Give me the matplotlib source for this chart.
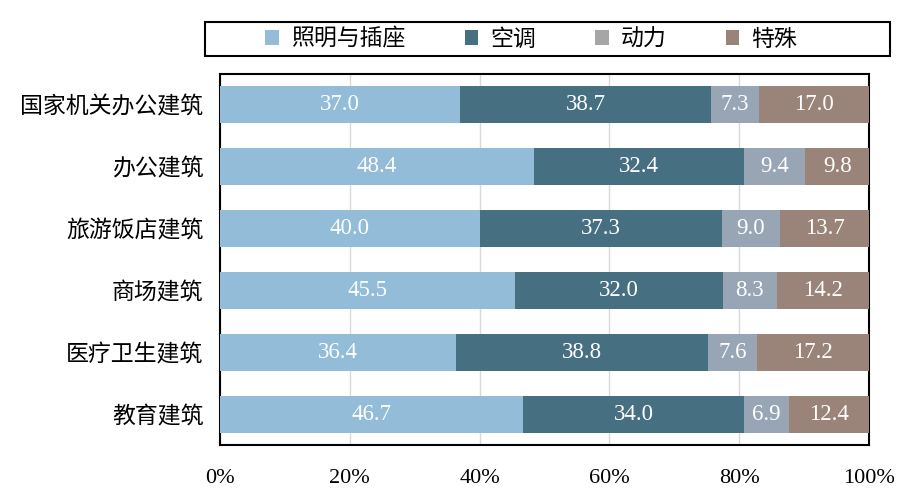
import matplotlib
matplotlib.use("Agg")
import matplotlib.pyplot as plt
import numpy as np
from matplotlib.patches import Patch, Rectangle

# data
buildings = ["国家机关办公建筑", "办公建筑", "旅游饭店建筑", "商场建筑", "医疗卫生建筑", "教育建筑"]
series_names = ["照明与插座", "空调", "动力", "特殊"]
lighting = [37.0, 48.4, 40.0, 45.5, 36.4, 46.7]
aircon = [38.7, 32.4, 37.3, 32.0, 38.8, 34.0]
power = [7.3, 9.4, 9.0, 8.3, 7.6, 6.9]
special = [17.0, 9.8, 13.7, 14.2, 17.2, 12.4]
xticks = [0, 20, 40, 60, 80, 100]

bar_colors = ["#93BCD8", "#476F82", "#97A5B5", "#9A8479"]
legend_colors = ["#93BCD8", "#476F82", "#A6A6A6", "#9A8479"]

CJK = "Noto Sans CJK SC"
NUM = "Liberation Serif"

fig = plt.figure(figsize=(9.14, 5.0), dpi=100)
ax = fig.add_axes([0.2407, 0.11, 0.7101, 0.742])

y = np.arange(len(buildings))
left = np.zeros(len(buildings))
for vals, col in zip([lighting, aircon, power, special], bar_colors):
    vals = np.array(vals)
    ax.barh(y, vals, left=left, height=0.6, color=col, zorder=3)
    for yi, l, v in zip(y, left, vals):
        ax.text(l + v / 2, yi, f"{v:.1f}", ha="center", va="center",
                color="white", fontsize=16.5, family=NUM, zorder=4)
    left += vals

ax.set_xlim(0, 100)
ax.set_ylim(len(buildings) - 0.5, -0.5)
ax.set_yticks(y)
ax.set_yticklabels(buildings, family=CJK, fontsize=16.5)
ax.set_xticks(xticks)
ax.set_xticklabels([f"{t}%" for t in xticks], family=NUM, fontsize=16)
ax.tick_params(axis="both", length=0)
ax.tick_params(axis="y", pad=12)
ax.tick_params(axis="x", pad=17)
ax.grid(axis="x", color="#D9D9D9", linewidth=1, zorder=0)
for s in ax.spines.values():
    s.set_color("black")
    s.set_linewidth(1.5)

# legend with box
handles = [Patch(facecolor=c, edgecolor="none") for c in legend_colors]
fig.legend(handles, series_names, loc="center", bbox_to_anchor=(0.581, 0.922),
           ncol=4, frameon=False, prop={"family": CJK, "size": 16.5},
           handlelength=0.6, handleheight=0.6, handletextpad=0.5, columnspacing=2.6)
fig.patches.append(Rectangle((0.2243, 0.888), 0.7494, 0.068, transform=fig.transFigure,
                             fill=False, edgecolor="black", linewidth=1.5))

fig.savefig("out.png", dpi=100)
